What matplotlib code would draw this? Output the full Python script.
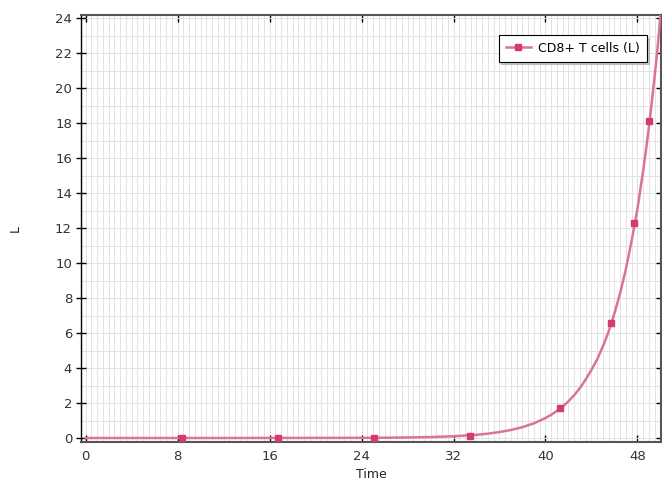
import matplotlib.pyplot as plt
from matplotlib.ticker import MultipleLocator

# --------------------------------------------------
# Curve values
# --------------------------------------------------
time = [0, 4, 8, 12, 16, 20, 24, 26, 28, 30, 32, 33, 34, 35, 36, 37, 38,
        39, 40, 40.5, 41, 41.5, 42, 42.5, 43, 43.5, 44, 44.5, 45, 45.5, 46,
        46.5, 47, 47.5, 48, 48.25, 48.5, 48.75, 49, 49.25, 49.5, 49.75, 50]
cd8 = [0.0, 0.0, 0.0, 0.0, 0.003, 0.005, 0.009, 0.015, 0.03, 0.054, 0.1,
       0.14, 0.18, 0.25, 0.34, 0.46, 0.62, 0.84, 1.14, 1.33, 1.55, 1.8, 2.1,
       2.45, 2.86, 3.35, 3.9, 4.5, 5.25, 6.1, 7.13, 8.3, 9.68, 11.3, 13.1,
       14.2, 15.3, 16.5, 17.8, 19.2, 20.7, 22.3, 24.2]

# marker positions along the curve
marker_time = [8.36, 16.7, 25.1, 33.45, 41.3, 45.7, 47.7, 48.98]
marker_cd8 = [0.0, 0.0, 0.01, 0.11, 1.7, 6.6, 12.3, 18.1]

x_ticks = [0, 8, 16, 24, 32, 40, 48]
y_ticks = [0, 2, 4, 6, 8, 10, 12, 14, 16, 18, 20, 22, 24]

LINE_COLOR = "#d9739c"
MARK_COLOR = "#d43c71"

# --------------------------------------------------
# Plot
# --------------------------------------------------
fig = plt.figure(figsize=(6.62, 4.79), dpi=100)
ax = fig.add_axes([0.1224, 0.0772, 0.8761, 0.8915])

ax.plot(time, cd8, color=LINE_COLOR, linewidth=1.8, zorder=3)
ax.plot(marker_time, marker_cd8, linestyle="none", marker="s",
        markersize=5, color=MARK_COLOR, zorder=4)
# legend proxy
ax.plot([], [], color=LINE_COLOR, linewidth=1.8, marker="s",
        markersize=5, markerfacecolor=MARK_COLOR, markeredgecolor=MARK_COLOR,
        label="CD8+ T cells (L)")

ax.set_xlim(-0.4, 50.05)
ax.set_ylim(-0.23, 24.19)
ax.set_xticks(x_ticks)
ax.set_yticks(y_ticks)
ax.xaxis.set_minor_locator(MultipleLocator(0.5))
ax.yaxis.set_minor_locator(MultipleLocator(1))
ax.grid(True, which="both", color="#e2e2e2", linewidth=0.7, zorder=0)
ax.set_axisbelow(True)

ax.tick_params(which="major", direction="in", length=5, width=1,
               top=True, right=True, labelsize=9.5, labelcolor="#333333",
               pad=6)
ax.tick_params(axis="y", which="major", direction="inout", length=7, pad=3)
ax.tick_params(which="minor", length=0)

ax.spines["left"].set_color("black")
ax.spines["left"].set_linewidth(1.0)
for side in ["top", "bottom", "right"]:
    ax.spines[side].set_color("#555555")
    ax.spines[side].set_linewidth(1.5)

ax.set_xlabel("Time", fontsize=9, color="#222222", labelpad=3)
ax.set_ylabel("L", fontsize=9, color="#222222", rotation=90)
ax.yaxis.set_label_coords(-0.103, 0.5)

leg = ax.legend(loc="upper right", bbox_to_anchor=(0.986, 0.968),
                fontsize=9, fancybox=False, shadow={"ox": 2, "oy": -2,
                                                   "color": "#999999"},
                framealpha=1, edgecolor="black", handlelength=2.0,
                borderpad=0.55, handletextpad=0.6)
leg.get_frame().set_linewidth(0.8)

plt.savefig("out.png", dpi=100)
